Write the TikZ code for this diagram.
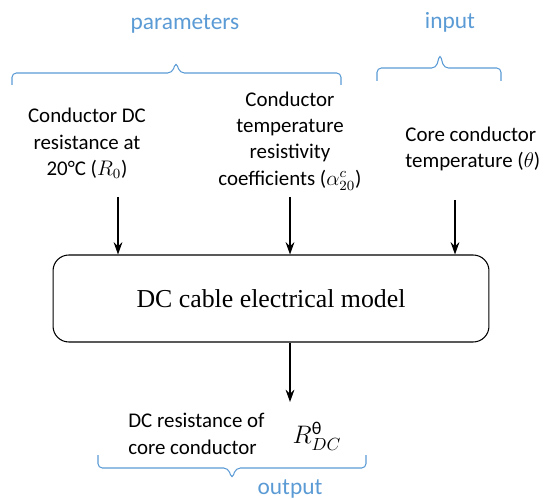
\documentclass[tikz,border=0pt]{standalone}
\usepackage{amsmath}
\usepackage{fontspec}
\setmainfont{Carlito}
\newfontfamily\modelfont{Liberation Serif}
\usepackage{xcolor}
\definecolor{accent}{HTML}{5B9BD5}
\definecolor{ink}{HTML}{000000}
\usepackage{tikz}
\usetikzlibrary{arrows.meta,positioning}

\begin{document}
\begin{tikzpicture}[x=0.02cm,y=-0.02cm,
  txt/.style={font=\fontsize{11.9}{15}\selectfont,text=ink,align=center,inner sep=0pt},
  tag/.style={font=\fontsize{13.3}{16}\selectfont,text=accent,inner sep=0pt},
  brace/.style={accent,line width=0.6pt,rounded corners=2.5pt},
  arr/.style={ink,line width=0.9pt,-{Stealth[length=7pt,width=5pt]}}]
  \useasboundingbox (0,0) rectangle (550,499);

  % --- Labels of the groups ---
  \node[tag] (tpar) at (185,24) {parameters};
  \node[tag] (tin) at (450,22) {input};
  \node[tag] (tout) at (290,489) {output};

  % --- Braces ---
  \draw[brace] (12,85) -- (12,73) -- (172,73) -- (176,62) -- (180,73) -- (341,73) -- (341,85);
  \draw[brace] (377,81) -- (377,68) -- (436,68) -- (440,54) -- (444,68) -- (501,68) -- (501,81);
  \draw[brace] (98,455) -- (98,468) -- (228,468) -- (232,479) -- (236,468) -- (366,468) -- (366,455);

  % --- Inputs and parameters ---
  \node[txt] (r0) at (87,143.5) {Conductor DC\\resistance at\\20°C ($R_0$)};
  \node[txt] (alpha) at (290,141) {Conductor\\temperature\\resistivity\\coefficients ($\alpha_{20}^{c}$)};
  \node[txt,align=left,anchor=west] (theta) at (405,149) {Core conductor\\temperature ($\theta$)};

  % --- Model ---
  \node[draw=ink,line width=0.6pt,rounded corners=9pt,minimum width=8.72cm,minimum height=1.74cm,
        font=\modelfont\fontsize{14.7}{17}\selectfont] (model) at (271,298.5) {DC cable electrical model};

  % --- Output ---
  \node[txt,align=left,anchor=west] (res) at (128,434) {DC resistance of\\core conductor};
  \node[font=\fontsize{14.7}{17}\selectfont,inner sep=0pt] (rdc) at (317,436) {$R_{DC}^{\text{θ}}$};

  % --- Arrows ---
  \coordinate (a1) at (118,197);
  \coordinate (a2) at (290,197);
  \coordinate (a3) at (455,200);
  \foreach \a in {a1,a2,a3} \draw[arr] (\a) -- (\a |- model.north);
  \coordinate (a4) at (290,402);
  \draw[arr] (model.south -| a4) -- (a4);
\end{tikzpicture}
\end{document}
